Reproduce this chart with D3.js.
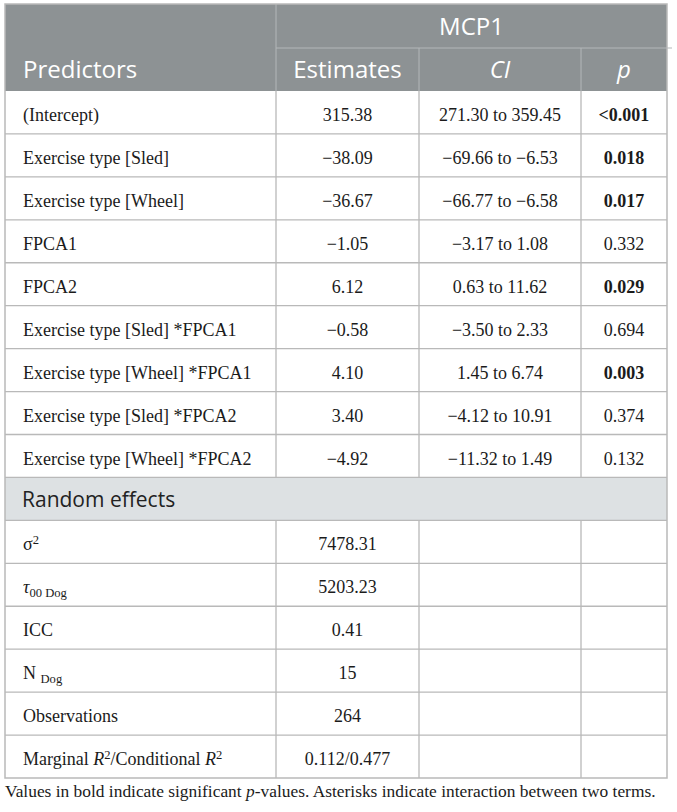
<!DOCTYPE html>
<html>
<head>
<meta charset="utf-8">
<script src="https://cdn.jsdelivr.net/npm/d3@7"></script>
<style>
  html, body { margin: 0; padding: 0; background: #fff; }
</style>
</head>
<body>
<script>
// table contents
var predictors = ['(Intercept)', 'Exercise type [Sled]', 'Exercise type [Wheel]', 'FPCA1', 'FPCA2',
  'Exercise type [Sled] *FPCA1', 'Exercise type [Wheel] *FPCA1', 'Exercise type [Sled] *FPCA2', 'Exercise type [Wheel] *FPCA2'];
var estimates = ['315.38', '\u221238.09', '\u221236.67', '\u22121.05', '6.12', '\u22120.58', '4.10', '3.40', '\u22124.92'];
var ciLow = ['271.30', '\u221269.66', '\u221266.77', '\u22123.17', '0.63', '\u22123.50', '1.45', '\u22124.12', '\u221211.32'];
var ciHigh = ['359.45', '\u22126.53', '\u22126.58', '1.08', '11.62', '2.33', '6.74', '10.91', '1.49'];
var pValues = ['<0.001', '0.018', '0.017', '0.332', '0.029', '0.694', '0.003', '0.374', '0.132'];
var significant = [true, true, true, false, true, false, true, false, false];

var randomLabels = [
  [{t: '\u03c3'}, {t: '2', sup: true}],
  [{t: '\u03c4', it: true}, {t: '00 Dog', sub: true}],
  [{t: 'ICC'}],
  [{t: 'N '}, {t: 'Dog', sub: true}],
  [{t: 'Observations'}],
  [{t: 'Marginal '}, {t: 'R', it: true}, {t: '2', sup: true}, {t: '/Conditional '}, {t: 'R', it: true}, {t: '2', sup: true}]
];
var randomValues = ['7478.31', '5203.23', '0.41', '15', '264', '0.112/0.477'];

var headerTitle = 'MCP1';
var columnHeads = ['Predictors', 'Estimates', 'CI', 'p'];

var width = 677;
var height = 812;
var left = 5, right = 667;
var colEdges = [5, 276, 419, 581, 667];
var tableTop = 4, headMid = 48, bodyTop = 91, bodyBottom = 778;

var sans = "'Open Sans', 'Noto Sans', sans-serif";
var serif = "'Liberation Serif', 'DejaVu Serif', serif";
var headBg = '#8d9294';
var bandBg = '#dde1e3';
var lineCol = '#b9b9b9';
var textCol = '#1b1b1b';
var headFs = 24;

var nRows = predictors.length + 1 + randomValues.length;
var y = d3.scaleLinear().domain([0, nRows]).range([bodyTop, bodyBottom]);

var svg = d3.select('body').append('svg')
  .attr('width', width)
  .attr('height', height);

// header background
svg.append('rect')
  .attr('x', left).attr('y', tableTop)
  .attr('width', right - left).attr('height', bodyTop - tableTop)
  .attr('fill', headBg);

// random effects band
var bandIndex = predictors.length;
svg.append('rect')
  .attr('x', left).attr('y', y(bandIndex))
  .attr('width', right - left).attr('height', y(bandIndex + 1) - y(bandIndex))
  .attr('fill', bandBg);

// header lines (lighter on grey)
var headLine = '#b3b7b9';
svg.append('line')
  .attr('x1', colEdges[1]).attr('x2', colEdges[1])
  .attr('y1', tableTop).attr('y2', bodyTop)
  .attr('stroke', headLine).attr('stroke-width', 1);
svg.append('line')
  .attr('x1', colEdges[1]).attr('x2', right + 5)
  .attr('y1', headMid).attr('y2', headMid)
  .attr('stroke', headLine).attr('stroke-width', 1);
[2, 3].forEach(function(i){
  svg.append('line')
    .attr('x1', colEdges[i]).attr('x2', colEdges[i])
    .attr('y1', headMid).attr('y2', bodyTop)
    .attr('stroke', headLine).attr('stroke-width', 1);
});

// header text
svg.append('text')
  .attr('x', (colEdges[1] + colEdges[4]) / 2).attr('y', tableTop + 31)
  .attr('text-anchor', 'middle')
  .attr('font-family', sans).attr('font-size', headFs)
  .attr('fill', '#fff')
  .text(headerTitle);

columnHeads.forEach(function(h, i){
  var cx = i === 0 ? colEdges[0] + 18 : (colEdges[i] + colEdges[i + 1]) / 2;
  svg.append('text')
    .attr('x', cx).attr('y', headMid + 30)
    .attr('text-anchor', i === 0 ? 'start' : 'middle')
    .attr('font-family', sans).attr('font-size', headFs)
    .attr('font-style', i >= 2 ? 'italic' : 'normal')
    .attr('fill', '#fff')
    .text(h);
});

// horizontal row lines
d3.range(1, nRows).forEach(function(r){
  svg.append('line')
    .attr('x1', left).attr('x2', right)
    .attr('y1', y(r)).attr('y2', y(r))
    .attr('stroke', lineCol).attr('stroke-width', 1.3);
});

// vertical column lines in body (not across the band)
[1, 2, 3].forEach(function(i){
  svg.append('line')
    .attr('x1', colEdges[i]).attr('x2', colEdges[i])
    .attr('y1', bodyTop).attr('y2', y(bandIndex))
    .attr('stroke', lineCol).attr('stroke-width', 1.3);
  svg.append('line')
    .attr('x1', colEdges[i]).attr('x2', colEdges[i])
    .attr('y1', y(bandIndex + 1)).attr('y2', bodyBottom)
    .attr('stroke', lineCol).attr('stroke-width', 1.3);
});

// outer border
svg.append('rect')
  .attr('x', left).attr('y', tableTop)
  .attr('width', right - left).attr('height', bodyBottom - tableTop)
  .attr('fill', 'none')
  .attr('stroke', lineCol).attr('stroke-width', 1.5);

var fs = 18;
function cellText(x, r, anchor){
  return svg.append('text')
    .attr('x', x).attr('y', y(r) + 30)
    .attr('text-anchor', anchor)
    .attr('font-family', serif).attr('font-size', fs)
    .attr('fill', textCol);
}
function colCenter(i){ return (colEdges[i] + colEdges[i + 1]) / 2; }

// fixed effects rows
predictors.forEach(function(p, r){
  cellText(colEdges[0] + 18, r, 'start').text(p);
  cellText(colCenter(1), r, 'middle').text(estimates[r]);
  cellText(colCenter(2), r, 'middle').text(ciLow[r] + ' to ' + ciHigh[r]);
  cellText(colCenter(3), r, 'middle')
    .attr('font-weight', significant[r] ? 'bold' : 'normal')
    .text(pValues[r]);
});

// random effects heading
svg.append('text')
  .attr('x', colEdges[0] + 17).attr('y', y(bandIndex) + 30)
  .attr('font-family', sans).attr('font-size', 21)
  .attr('fill', '#222')
  .text('Random effects');

// random effects rows
randomLabels.forEach(function(segs, k){
  var r = bandIndex + 1 + k;
  var t = cellText(colEdges[0] + 18, r, 'start');
  segs.forEach(function(s){
    var ts = t.append('tspan').text(s.t);
    if (s.it) ts.attr('font-style', 'italic');
    if (s.sup) ts.attr('font-size', fs * 0.7).attr('baseline-shift', '45%');
    if (s.sub) ts.attr('font-size', fs * 0.7).attr('baseline-shift', '-30%');
  });
  cellText(colCenter(1), r, 'middle').text(randomValues[k]);
});

// footnote
svg.append('text')
  .attr('x', left).attr('y', 797)
  .attr('font-family', serif).attr('font-size', 17.4)
  .attr('fill', textCol)
  .call(function(t){
    t.append('tspan').text('Values in bold indicate significant ');
    t.append('tspan').attr('font-style', 'italic').text('p');
    t.append('tspan').text('-values. Asterisks indicate interaction between two terms.');
  });
</script>
</body>
</html>
